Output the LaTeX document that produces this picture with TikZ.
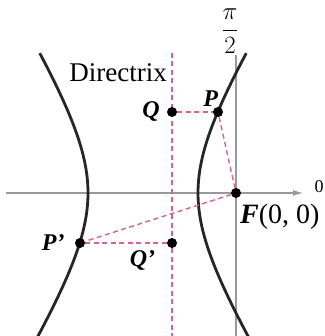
\documentclass[tikz,border=0pt]{standalone}
\usepackage{fontspec}
\setmainfont{Liberation Serif}
\usepackage{amsmath}
\usetikzlibrary{arrows.meta,positioning}
\definecolor{dirpink}{RGB}{212,98,148}

\begin{document}
\begin{tikzpicture}[x=1pt, y=1pt, >=Latex,
  dot/.style={circle, fill=black, inner sep=0pt, minimum size=10pt},
  pinkdash/.style={dirpink, line width=1.4pt, dash pattern=on 5pt off 3.5pt},
  axisline/.style={black!40, line width=1.1pt},
  branch/.style={black!85, line width=2.8pt},
  lbl/.style={font=\fontsize{24}{26}\selectfont\bfseries\itshape, inner sep=1pt}]
  \useasboundingbox (0,0) rectangle (324,336);

  % polar axis and pi/2 line
  \coordinate (axl) at (6,143);
  \coordinate (axr) at (303,143);
  \coordinate (vtop) at (236,281);
  \coordinate (vbot) at (236,0);
  \draw[axisline, -{Latex[length=10pt,width=6pt]}] (axl) -- (axr);
  \draw[axisline] (vtop) -- (vbot);
  \node[font=\fontsize{18}{20}\selectfont, inner sep=0pt] (zero) at (319,149) {0};
  \node[font=\fontsize{27}{29}\selectfont, inner sep=0pt] (halfpi) at (230,305) {$\dfrac{\pi}{2}$};

  % directrix
  \coordinate (dtop) at (172,283);
  \coordinate (dbot) at (172,0);
  \draw[pinkdash] (dtop) -- (dbot);
  \node[font=\fontsize{27}{30}\selectfont, anchor=east, inner sep=0pt] (dirlbl) at (167,263) {Directrix};

  % the two branches
  \draw[branch] plot[domain=-1.276:1.243, samples=60, variable=\t] ({143+55*cosh(\t)}, {143+88*sinh(\t)});
  \draw[branch] plot[domain=-1.276:1.243, samples=60, variable=\t] ({143-55*cosh(\t)}, {143+88*sinh(\t)});

  % points
  \node[dot] (P) at (218,224) {};
  \node[dot] (Q) at (172,224) {};
  \node[dot] (F) at (236,143) {};
  \node[dot] (Pp) at (80,93) {};
  \node[dot] (Qp) at (172,93) {};

  \draw[pinkdash] (Q) -- (P);
  \draw[pinkdash] (P) -- (F);
  \draw[pinkdash] (F) -- (Pp);
  \draw[pinkdash] (Pp) -- (Qp);

  \node[lbl, above left=1pt and -5pt of P] (Plbl) {P};
  \node[lbl, left=6pt of Q] (Qlbl) {Q};
  \node[lbl, left=9pt of Pp] (Pplbl) {P'};
  \node[lbl, below left=3pt and 12pt of Qp] (Qplbl) {Q'};
  \node[font=\fontsize{28}{30}\selectfont, anchor=north west, inner sep=0pt] (Flbl) at (240,132) {\textbf{\textit{F}}(0, 0)};
\end{tikzpicture}
\end{document}
